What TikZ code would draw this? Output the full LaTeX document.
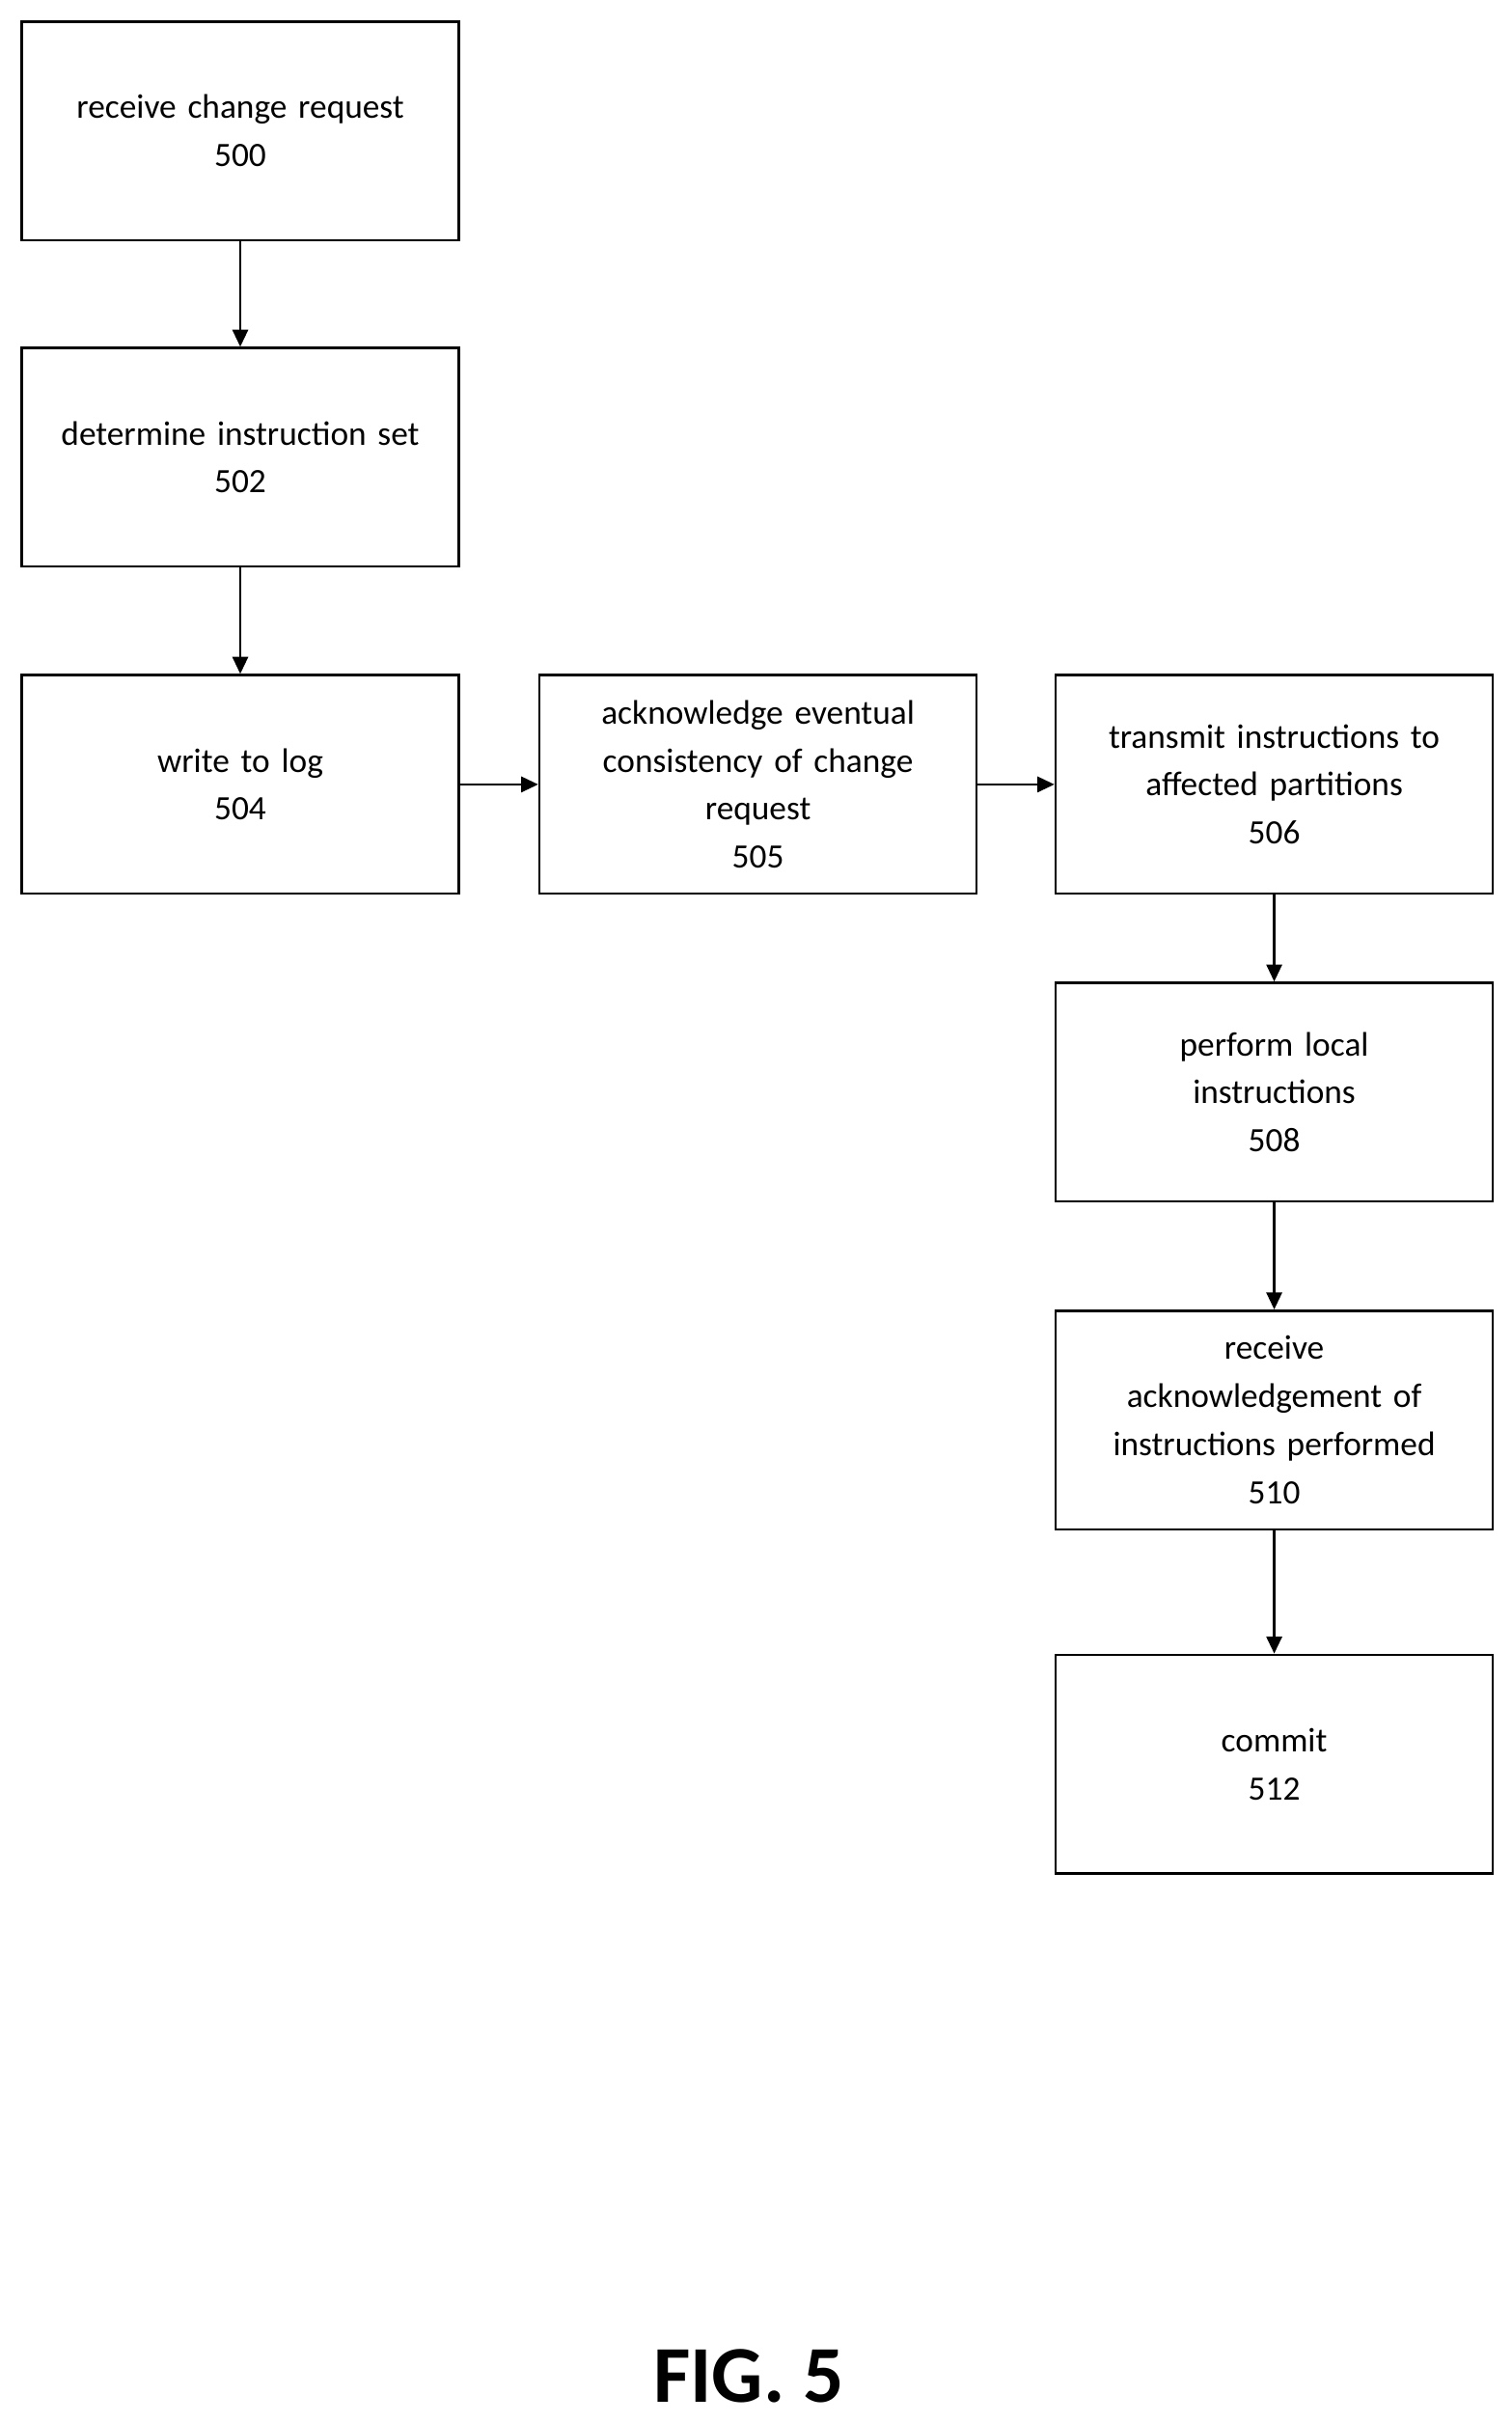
\documentclass[tikz,border=0pt]{standalone}
\usepackage{fontspec}
\setmainfont{Carlito}
\usetikzlibrary{arrows.meta}
\tikzset{
	stepbox/.style={draw, line width=1.6pt, minimum width=282pt, minimum height=141pt, align=center, text width=270pt, font=\fontsize{22}{31}\selectfont},
	flow/.style={line width=1.6pt, -{Triangle[length=11pt, width=10pt]}}
}
\begin{document}
\begin{tikzpicture}[x=1pt, y=-1pt]
		\useasboundingbox (0,0) rectangle (975,1563);
		
		% Linke Spalte
		\node[stepbox] (s500) at (155,84.5) {receive change request\\500};
		\node[stepbox] (s502) at (155,295) {determine instruction set\\502};
		\node[stepbox] (s504) at (155,506) {write to log\\504};
		
		% Mitte
		\node[stepbox] (s505) at (489,506) {acknowledge eventual\\consistency of change\\request\\505};
		
		% Rechte Spalte
		\node[stepbox] (s506) at (822,506) {transmit instructions to\\affected partitions\\506};
		\node[stepbox] (s508) at (822,704.5) {perform local\\instructions\\508};
		\node[stepbox] (s510) at (822,916) {receive\\acknowledgement of\\instructions performed\\510};
		\node[stepbox] (s512) at (822,1138) {commit\\512};
		
		% Pfeile
		\draw[flow] (s500) -- (s502);
		\draw[flow] (s502) -- (s504);
		\draw[flow] (s504) -- (s505);
		\draw[flow] (s505) -- (s506);
		\draw[flow] (s506) -- (s508);
		\draw[flow] (s508) -- (s510);
		\draw[flow] (s510) -- (s512);
		
		\node[font=\fontsize{52}{60}\selectfont\bfseries] (fig) at (483,1533) {FIG. 5};
		
	\end{tikzpicture}
\end{document}
